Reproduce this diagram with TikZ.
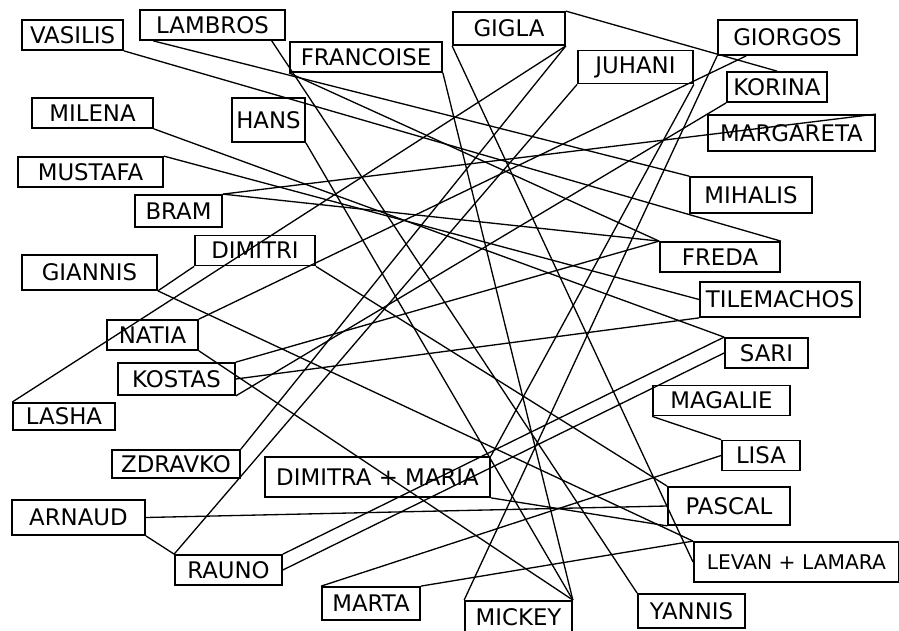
\documentclass[tikz,border=0pt]{standalone}
\usepackage{fontspec}
\setmainfont{DejaVu Sans}
\begin{document}
\begin{tikzpicture}[x=0.02cm,y=-0.02cm,
	boxw/.style={minimum width=#1*0.02cm},
	boxh/.style={minimum height=#1*0.02cm}]
	\useasboundingbox (0,0) rectangle (899,631);
	\begin{scope}[every node/.style={draw,line width=1pt,inner sep=0pt,minimum height=0.6cm,font=\fontsize{13}{15}\selectfont}]
	\node[boxw=101] (VASILIS) at (72.5,35) {VASILIS};
	\node[boxw=145] (LAMBROS) at (212.5,25) {LAMBROS};
	\node[boxw=152] (FRANCOISE) at (366,57) {FRANCOISE};
	\node[boxw=112,boxh=33] (GIGLA) at (509,28.5) {GIGLA};
	\node[boxw=115,boxh=33] (JUHANI) at (635.5,67) {JUHANI};
	\node[boxw=139,boxh=35] (GIORGOS) at (787.5,37.5) {GIORGOS};
	\node[boxw=100] (KORINA) at (777,87) {KORINA};
	\node[boxw=121] (MILENA) at (92.5,113) {MILENA};
	\node[boxw=73,boxh=44] (HANS) at (268.5,120) {HANS};
	\node[boxw=167,boxh=36] (MARGARETA) at (791.5,133) {MARGARETA};
	\node[boxw=145] (MUSTAFA) at (90.5,172) {MUSTAFA};
	\node[boxw=87,boxh=32] (BRAM) at (178.5,211) {BRAM};
	\node[boxw=122,boxh=36] (MIHALIS) at (751,195) {MIHALIS};
	\node[boxw=120] (DIMITRI) at (255,250.5) {DIMITRI};
	\node[boxw=135,boxh=35] (GIANNIS) at (89.5,272.5) {GIANNIS};
	\node[boxw=120] (FREDA) at (720,257) {FREDA};
	\node[boxw=160,boxh=35] (TILEMACHOS) at (780,299.5) {TILEMACHOS};
	\node[boxw=91] (NATIA) at (152.5,335) {NATIA};
	\node[boxw=117,boxh=32] (KOSTAS) at (176.5,379) {KOSTAS};
	\node[boxw=83] (SARI) at (766.5,353) {SARI};
	\node[boxw=102,boxh=27] (LASHA) at (64,416.5) {LASHA};
	\node[boxw=137] (MAGALIE) at (721.5,400.5) {MAGALIE};
	\node[boxw=128,boxh=28] (ZDRAVKO) at (176,464) {ZDRAVKO};
	\node[boxw=225,boxh=40] (DM) at (377.5,477) {DIMITRA + MARIA};
	\node[boxw=78] (LISA) at (761,455.5) {LISA};
	\node[boxw=133,boxh=35] (ARNAUD) at (78.5,517.5) {ARNAUD};
	\node[boxw=122,boxh=38] (PASCAL) at (729,506) {PASCAL};
	\node[boxw=107] (RAUNO) at (228.5,570) {RAUNO};
	\node[boxw=205,boxh=40,anchor=west,font=\fontsize{11.5}{14}\selectfont] (LEVAN) at (693,562) {LEVAN + LAMARA};
	\node[boxw=98,boxh=33] (MARTA) at (371,603.5) {MARTA};
	\node[boxw=107,boxh=32] (MICKEY) at (518.5,617) {MICKEY};
	\node[boxw=107,boxh=34] (YANNIS) at (691.5,611) {YANNIS};
	\end{scope}
	\begin{scope}[line width=0.75pt]
	\draw (VASILIS.south east) -- (FREDA.north east);
	\draw (LAMBROS.195) -- (MIHALIS.north west);
	\draw (LAMBROS.-15) -- (YANNIS.north west);
	\draw (FRANCOISE.south west) -- (FREDA.north west);
	\draw (FRANCOISE.south east) -- (MICKEY.north east);
	\draw (HANS.south east) -- (MICKEY.north east);
	\draw (GIGLA.north east) -- (KORINA.north);
	\draw (GIGLA.south east) -- (LASHA.north west);
	\draw (GIGLA.south east) -- (ZDRAVKO.north east);
	\draw (GIGLA.south west) -- (LEVAN.west);
	\draw (JUHANI.south west) -- (RAUNO.north west);
	\draw (JUHANI.south east) -- (DM.north east);
	\draw (GIORGOS.south west) -- (MICKEY.north west);
	\draw (GIORGOS.204) -- (NATIA.north east);
	\draw (KORINA.south west) -- (KOSTAS.south east);
	\draw (MARGARETA.north east) -- (BRAM.north east);
	\draw (BRAM.north east) -- (FREDA.north west);
	\draw (MILENA.south east) -- (SARI.north west);
	\draw (MUSTAFA.north east) -- (TILEMACHOS.west);
	\draw (KOSTAS.north east) -- (FREDA.north west);
	\draw (KOSTAS.east) -- (TILEMACHOS.south west);
	\draw (GIANNIS.south east) -- (DIMITRI.south west);
	\draw (GIANNIS.south east) -- (LEVAN.north west);
	\draw (DIMITRI.south east) -- (PASCAL.north west);
	\draw (NATIA.south east) -- (MICKEY.north east);
	\draw (ARNAUD.east) -- (PASCAL.west);
	\draw (ARNAUD.south east) -- (RAUNO.north west);
	\draw (RAUNO.north east) -- (SARI.north west);
	\draw (RAUNO.east) -- (SARI.west);
	\draw (DM.south east) -- (PASCAL.south west);
	\draw (MARTA.north west) -- (LISA.west);
	\draw (MARTA.north east) -- (LEVAN.north west);
	\draw (MAGALIE.south west) -- (LISA.north west);
	\end{scope}
\end{tikzpicture}
\end{document}
